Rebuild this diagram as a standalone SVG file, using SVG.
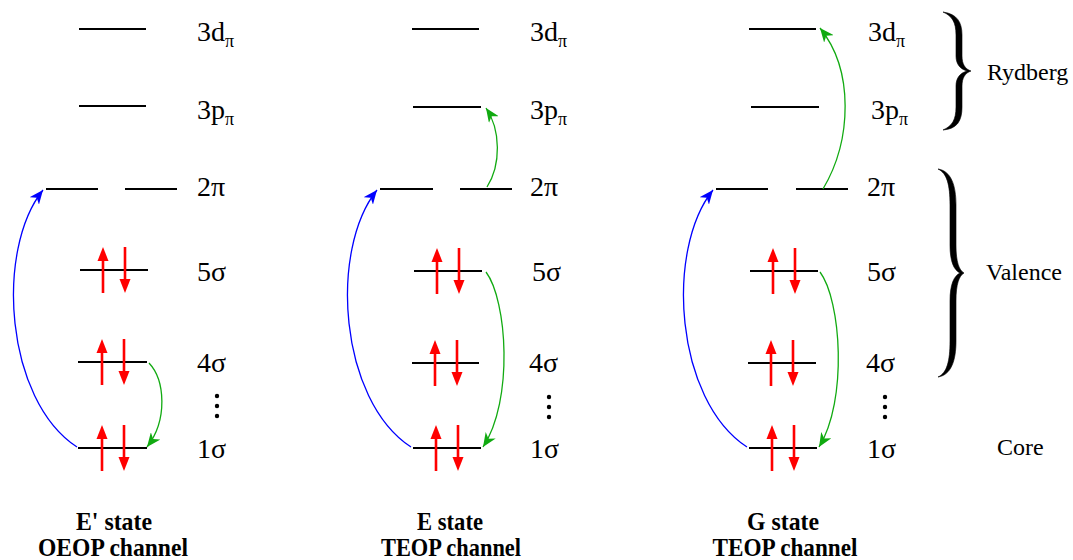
<svg xmlns="http://www.w3.org/2000/svg" width="1073" height="560" viewBox="0 0 1073 560">
<style>
.lv{stroke:#000;stroke-width:2.2;fill:none}
.lb{font-family:"Liberation Serif","Times New Roman",serif;font-size:28px;fill:#000}
.sub{font-size:18px}
.side{font-family:"Liberation Serif","Times New Roman",serif;font-size:24px;fill:#000}
.cap{font-family:"Liberation Serif","Times New Roman",serif;font-size:25px;font-weight:bold;fill:#000;text-anchor:middle}
.blue{stroke:#0000ff;stroke-width:1.3;fill:none;marker-end:url(#mb)}
.green{stroke:#11aa11;stroke-width:1.3;fill:none;marker-end:url(#mg)}
.brace{fill:#000;stroke:#000;stroke-width:0.6}
</style>
<defs>
<marker id="mb" markerUnits="userSpaceOnUse" markerWidth="16" markerHeight="12" viewBox="0 0 16 12" refX="14" refY="6" orient="auto">
<path d="M0,0 L14,6 L0,12 L4,6 z" fill="#0000ff"/>
</marker>
<marker id="mg" markerUnits="userSpaceOnUse" markerWidth="16" markerHeight="12" viewBox="0 0 16 12" refX="14" refY="6" orient="auto">
<path d="M0,0 L14,6 L0,12 L4,6 z" fill="#11aa11"/>
</marker>
<g id="up"><line x1="0" y1="23" x2="0" y2="-10" stroke="#ff0000" stroke-width="2.6"/><polygon points="0,-23 -5.5,-9 5.5,-9" fill="#ff0000"/></g>
<g id="dn"><line x1="0" y1="-23" x2="0" y2="10" stroke="#ff0000" stroke-width="2.6"/><polygon points="0,23 -5.5,9 5.5,9" fill="#ff0000"/></g>
<g id="pair"><use href="#up" x="0"/><use href="#dn" x="22"/></g>
<g id="dots"><circle cx="0" cy="0" r="2.2"/><circle cx="0" cy="10" r="2.2"/><circle cx="0" cy="20" r="2.2"/></g>
</defs>
<rect width="1073" height="560" fill="#fff"/>

<!-- Panel 1 -->
<g id="panel-Eprime">
<g id="p1-3d"><line class="lv" x1="79" y1="29" x2="146" y2="29"/><text class="lb" x="197" y="41">3d<tspan class="sub" dy="6">π</tspan></text></g>
<g id="p1-3p"><line class="lv" x1="79" y1="106" x2="146" y2="106"/><text class="lb" x="197" y="119">3p<tspan class="sub" dy="6">π</tspan></text></g>
<g id="p1-2pi"><line class="lv" x1="46" y1="189" x2="98" y2="189"/><line class="lv" x1="125" y1="189" x2="177" y2="189"/><text class="lb" x="197" y="196">2π</text></g>
<g id="p1-5s"><line class="lv" x1="80" y1="270" x2="148" y2="270"/><use href="#pair" x="103" y="270"/><text class="lb" x="197" y="281">5σ</text></g>
<g id="p1-4s"><line class="lv" x1="78" y1="362" x2="147" y2="362"/><use href="#pair" x="102" y="362"/><text class="lb" x="197" y="372">4σ</text></g>
<use href="#dots" x="217" y="396"/>
<g id="p1-1s"><line class="lv" x1="78" y1="448" x2="147" y2="448"/><use href="#pair" x="102" y="448"/><text class="lb" x="197" y="458">1σ</text></g>
<g id="p1-cap"><text class="cap" x="114" y="530" textLength="76" lengthAdjust="spacingAndGlyphs">E' state</text><text class="cap" x="113" y="556" textLength="150" lengthAdjust="spacingAndGlyphs">OEOP channel</text></g>
</g>

<!-- Panel 2 -->
<g id="panel-E">
<g id="p2-3d"><line class="lv" x1="412" y1="29" x2="479" y2="29"/><text class="lb" x="530" y="41">3d<tspan class="sub" dy="6">π</tspan></text></g>
<g id="p2-3p"><line class="lv" x1="413" y1="107" x2="481" y2="107"/><text class="lb" x="530" y="119">3p<tspan class="sub" dy="6">π</tspan></text></g>
<g id="p2-2pi"><line class="lv" x1="380" y1="189" x2="433" y2="189"/><line class="lv" x1="460" y1="189" x2="512" y2="189"/><text class="lb" x="530" y="196">2π</text></g>
<g id="p2-5s"><line class="lv" x1="414" y1="271" x2="482" y2="271"/><use href="#pair" x="437" y="271"/><text class="lb" x="532" y="281">5σ</text></g>
<g id="p2-4s"><line class="lv" x1="412" y1="363" x2="479" y2="363"/><use href="#pair" x="435" y="363"/><text class="lb" x="529" y="372">4σ</text></g>
<use href="#dots" x="549" y="397"/>
<g id="p2-1s"><line class="lv" x1="413" y1="448" x2="481" y2="448"/><use href="#pair" x="436" y="448"/><text class="lb" x="530" y="458">1σ</text></g>
<g id="p2-cap"><text class="cap" x="450" y="530" textLength="66" lengthAdjust="spacingAndGlyphs">E state</text><text class="cap" x="451" y="556" textLength="140" lengthAdjust="spacingAndGlyphs">TEOP channel</text></g>
</g>

<!-- Panel 3 -->
<g id="panel-G">
<g id="p3-3d"><line class="lv" x1="749" y1="29" x2="816" y2="29"/><text class="lb" x="868" y="41">3d<tspan class="sub" dy="6">π</tspan></text></g>
<g id="p3-3p"><line class="lv" x1="751" y1="107" x2="819" y2="107"/><text class="lb" x="871" y="119">3p<tspan class="sub" dy="6">π</tspan></text></g>
<g id="p3-2pi"><line class="lv" x1="716" y1="189" x2="768" y2="189"/><line class="lv" x1="796" y1="189" x2="848" y2="189"/><text class="lb" x="867" y="196">2π</text></g>
<g id="p3-5s"><line class="lv" x1="750" y1="271" x2="818" y2="271"/><use href="#pair" x="773" y="271"/><text class="lb" x="867" y="281">5σ</text></g>
<g id="p3-4s"><line class="lv" x1="748" y1="363" x2="816" y2="363"/><use href="#pair" x="771" y="363"/><text class="lb" x="866" y="372">4σ</text></g>
<use href="#dots" x="885" y="397"/>
<g id="p3-1s"><line class="lv" x1="749" y1="448" x2="817" y2="448"/><use href="#pair" x="772" y="448"/><text class="lb" x="867" y="458">1σ</text></g>
<g id="p3-cap"><text class="cap" x="783" y="530" textLength="72" lengthAdjust="spacingAndGlyphs">G state</text><text class="cap" x="785" y="556" textLength="145" lengthAdjust="spacingAndGlyphs">TEOP channel</text></g>
</g>

<!-- Side labels -->
<g id="rydberg"><path class="brace" d="M943,12 C957,14 962,22 962,35 L962,56 C962,64 965,69 971,71 C965,73 962,78 962,86 L962,107 C962,121 957,129 943,130 C952,126 956,120 956,107 L956,86 C956,78 960,73 967,71 C960,69 956,64 956,56 L956,35 C956,22 952,16 943,12 Z"/><text class="side" x="987" y="80">Rydberg</text></g>
<g id="valence"><path class="brace" d="M938,169 C951,171 956,185 956,205 L956,245 C956,262 959,270 964,273 C959,276 956,284 956,301 L956,341 C956,361 951,375 938,377 C947,373 950,361 950,341 L950,301 C950,284 954,276 960,273 C954,270 950,262 950,245 L950,205 C950,185 947,173 938,169 Z"/><text class="side" x="986" y="280">Valence</text></g>
<g id="core"><text class="side" x="997" y="455">Core</text></g>

<!-- Connectors -->
<g id="connectors">
<path class="blue" d="M77,447 C5,400 -5,250 43,190"/>
<path class="green" d="M149,363 C165,380 168,420 147,447"/>
<path class="blue" d="M411,447 C339,400 329,250 377,190"/>
<path class="green" d="M486,272 C507,300 514,400 483,447"/>
<path class="green" d="M487,187 C501,165 501,130 486,108"/>
<path class="blue" d="M747,447 C675,400 665,250 713,190"/>
<path class="green" d="M820,272 C841,300 848,400 819,447"/>
<path class="green" d="M823,189 C852,140 854,70 820,28"/>
</g>
</svg>
